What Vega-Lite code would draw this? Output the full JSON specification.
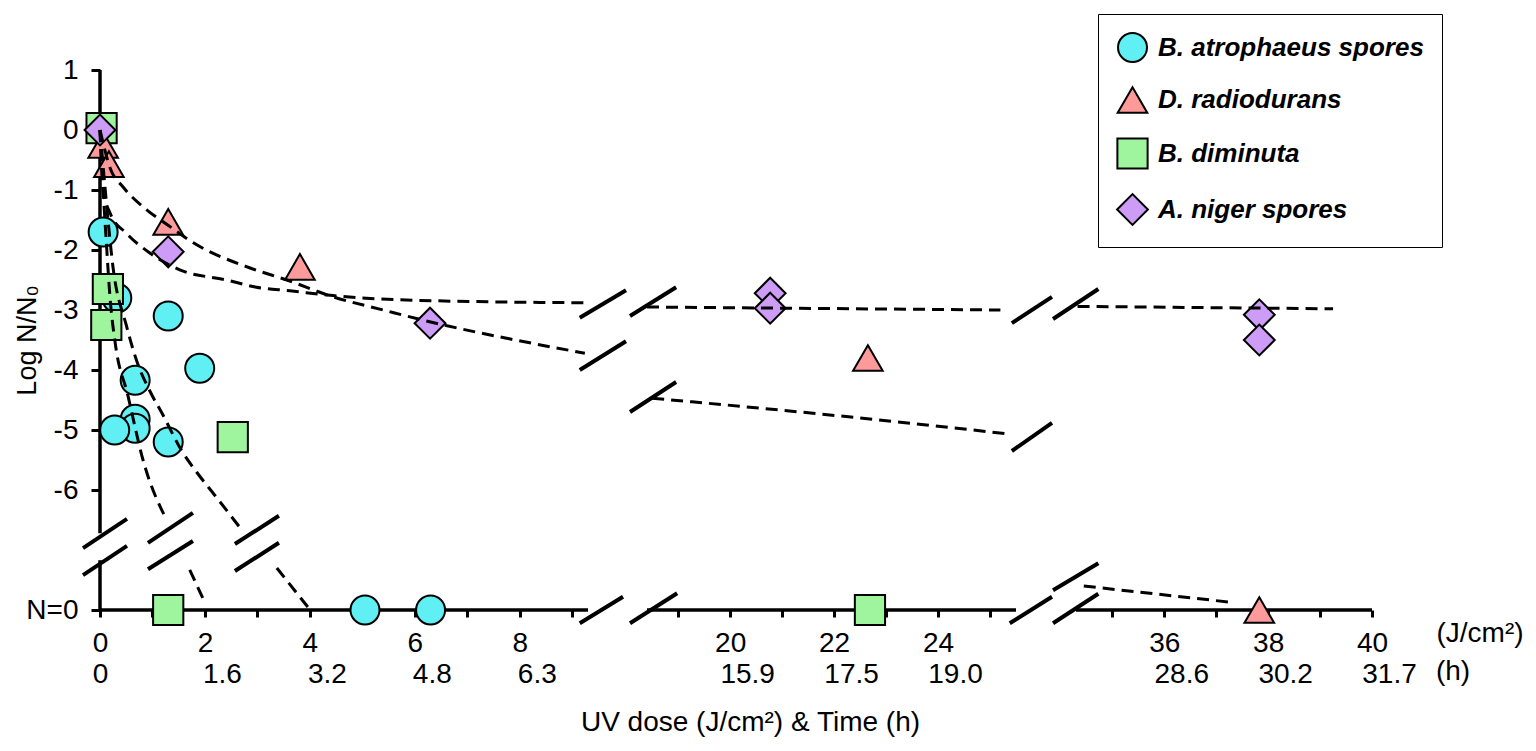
{
  "$schema": "https://vega.github.io/schema/vega-lite/v6.json",
  "autosize": {"type": "none"},
  "padding": {"left": 100, "top": 25, "right": 164, "bottom": 141},
  "width": 1272,
  "height": 585,
  "config": {
    "view": {"stroke": null},
    "font": "Liberation Sans"
  },
  "datasets": {
    "points": [
      {"species": "B. atrophaeus spores", "dose": 0.06, "logr": -1.7},
      {"species": "B. atrophaeus spores", "dose": 0.32, "logr": -2.8},
      {"species": "B. atrophaeus spores", "dose": 1.3, "logr": -3.1},
      {"species": "B. atrophaeus spores", "dose": 1.9, "logr": -3.97},
      {"species": "B. atrophaeus spores", "dose": 0.67, "logr": -4.17},
      {"species": "B. atrophaeus spores", "dose": 0.67, "logr": -4.82},
      {"species": "B. atrophaeus spores", "dose": 0.67, "logr": -4.97},
      {"species": "B. atrophaeus spores", "dose": 0.28, "logr": -5.0},
      {"species": "B. atrophaeus spores", "dose": 1.3, "logr": -5.2},
      {"species": "B. atrophaeus spores", "dose": 5.05, "logr": -8},
      {"species": "B. atrophaeus spores", "dose": 6.3, "logr": -8},
      {"species": "B. diminuta", "dose": 0.03, "logr": 0.03},
      {"species": "B. diminuta", "dose": 0.15, "logr": -2.65},
      {"species": "B. diminuta", "dose": 0.12, "logr": -3.25},
      {"species": "B. diminuta", "dose": 2.53, "logr": -5.12},
      {"species": "B. diminuta", "dose": 1.3, "logr": -8},
      {"species": "B. diminuta", "dose": 22.69, "logr": -8},
      {"species": "D. radiodurans", "dose": 0.06, "logr": -0.25},
      {"species": "D. radiodurans", "dose": 0.17, "logr": -0.57},
      {"species": "D. radiodurans", "dose": 1.3, "logr": -1.53},
      {"species": "D. radiodurans", "dose": 3.81, "logr": -2.28},
      {"species": "D. radiodurans", "dose": 22.65, "logr": -3.8},
      {"species": "D. radiodurans", "dose": 37.83, "logr": -8},
      {"species": "A. niger spores", "dose": 0, "logr": 0},
      {"species": "A. niger spores", "dose": 1.3, "logr": -2.03},
      {"species": "A. niger spores", "dose": 6.29, "logr": -3.22},
      {"species": "A. niger spores", "dose": 20.77, "logr": -2.72},
      {"species": "A. niger spores", "dose": 20.77, "logr": -2.97},
      {"species": "A. niger spores", "dose": 37.83, "logr": -3.08},
      {"species": "A. niger spores", "dose": 37.83, "logr": -3.5}
    ],
    "curves": [
      {"grp": "BD1", "dose": 0, "logr": 0},
      {"grp": "BD1", "dose": 0.06, "logr": -1.0},
      {"grp": "BD1", "dose": 0.13, "logr": -2.0},
      {"grp": "BD1", "dose": 0.19, "logr": -2.78},
      {"grp": "BD1", "dose": 0.29, "logr": -3.55},
      {"grp": "BD1", "dose": 0.53, "logr": -4.42},
      {"grp": "BD1", "dose": 0.82, "logr": -5.5},
      {"grp": "BD1", "dose": 1.27, "logr": -6.5},
      {"grp": "BD2", "dose": 1.71, "logr": -7.33},
      {"grp": "BD2", "dose": 2.0, "logr": -7.88},
      {"grp": "BA1", "dose": 0, "logr": 0},
      {"grp": "BA1", "dose": 0.1, "logr": -1.0},
      {"grp": "BA1", "dose": 0.25, "logr": -2.3},
      {"grp": "BA1", "dose": 0.5, "logr": -3.25},
      {"grp": "BA1", "dose": 0.72, "logr": -3.9},
      {"grp": "BA1", "dose": 0.95, "logr": -4.35},
      {"grp": "BA1", "dose": 1.2, "logr": -4.75},
      {"grp": "BA1", "dose": 1.56, "logr": -5.35},
      {"grp": "BA1", "dose": 1.84, "logr": -5.7},
      {"grp": "BA1", "dose": 2.2, "logr": -6.1},
      {"grp": "BA1", "dose": 2.67, "logr": -6.63},
      {"grp": "BA2", "dose": 3.37, "logr": -7.3},
      {"grp": "BA2", "dose": 3.96, "logr": -7.95},
      {"grp": "DR1", "dose": 0, "logr": 0},
      {"grp": "DR1", "dose": 0.2, "logr": -0.65},
      {"grp": "DR1", "dose": 0.44, "logr": -0.95},
      {"grp": "DR1", "dose": 0.89, "logr": -1.33},
      {"grp": "DR1", "dose": 1.27, "logr": -1.57},
      {"grp": "DR1", "dose": 1.78, "logr": -1.88},
      {"grp": "DR1", "dose": 2.86, "logr": -2.3},
      {"grp": "DR1", "dose": 3.56, "logr": -2.5},
      {"grp": "DR1", "dose": 4.44, "logr": -2.78},
      {"grp": "DR1", "dose": 5.4, "logr": -3.0},
      {"grp": "DR1", "dose": 6.3, "logr": -3.2},
      {"grp": "DR1", "dose": 7.8, "logr": -3.48},
      {"grp": "DR1", "dose": 9.24, "logr": -3.72},
      {"grp": "DR2", "dose": 18.5, "logr": -4.47},
      {"grp": "DR2", "dose": 21.7, "logr": -4.73},
      {"grp": "DR2", "dose": 25.3, "logr": -5.06},
      {"grp": "DR3", "dose": 34.45, "logr": -7.6},
      {"grp": "DR3", "dose": 37.27, "logr": -7.87},
      {"grp": "AN1", "dose": 0, "logr": 0},
      {"grp": "AN1", "dose": 0.06, "logr": -1.0},
      {"grp": "AN1", "dose": 0.2, "logr": -1.4},
      {"grp": "AN1", "dose": 0.5, "logr": -1.72},
      {"grp": "AN1", "dose": 0.95, "logr": -2.05},
      {"grp": "AN1", "dose": 1.52, "logr": -2.33},
      {"grp": "AN1", "dose": 2.41, "logr": -2.5},
      {"grp": "AN1", "dose": 2.98, "logr": -2.62},
      {"grp": "AN1", "dose": 3.62, "logr": -2.68},
      {"grp": "AN1", "dose": 4.44, "logr": -2.76},
      {"grp": "AN1", "dose": 5.7, "logr": -2.83},
      {"grp": "AN1", "dose": 9.3, "logr": -2.88},
      {"grp": "AN2", "dose": 18.4, "logr": -2.95},
      {"grp": "AN2", "dose": 25.2, "logr": -3.0},
      {"grp": "AN3", "dose": 34.33, "logr": -2.94},
      {"grp": "AN3", "dose": 39.25, "logr": -2.98}
    ],
    "axisLines": [
      {"x": 0, "x2": 0, "y": 1, "y2": -6.72},
      {"x": 0, "x2": 0, "y": -7.17, "y2": -8},
      {"x": 0, "x2": 9.3, "y": -8, "y2": -8},
      {"x": 18.4, "x2": 25.5, "y": -8, "y2": -8},
      {"x": 34.3, "x2": 40, "y": -8, "y2": -8}
    ],
    "breaks": [
      {"x": -0.324, "x2": 0.514, "y": -6.97, "y2": -6.48},
      {"x": -0.324, "x2": 0.514, "y": -7.42, "y2": -6.93},
      {"x": 0.914, "x2": 1.771, "y": -6.88, "y2": -6.38},
      {"x": 0.914, "x2": 1.771, "y": -7.32, "y2": -6.85},
      {"x": 2.571, "x2": 3.41, "y": -6.9, "y2": -6.43},
      {"x": 2.571, "x2": 3.41, "y": -7.35, "y2": -6.88},
      {"x": 9.143, "x2": 15.16, "y": -3.13, "y2": -2.67},
      {"x": 15.78, "x2": 18.96, "y": -3.1, "y2": -2.62},
      {"x": 9.143, "x2": 15.16, "y": -4.0, "y2": -3.52},
      {"x": 15.78, "x2": 18.96, "y": -4.7, "y2": -4.2},
      {"x": 9.143, "x2": 14.7, "y": -8.22, "y2": -7.78},
      {"x": 15.78, "x2": 18.98, "y": -8.22, "y2": -7.72},
      {"x": 25.42, "x2": 30.78, "y": -3.22, "y2": -2.78},
      {"x": 30.93, "x2": 34.73, "y": -3.15, "y2": -2.65},
      {"x": 25.42, "x2": 30.78, "y": -5.35, "y2": -4.88},
      {"x": 25.38, "x2": 30.78, "y": -8.22, "y2": -7.78},
      {"x": 30.93, "x2": 34.73, "y": -8.22, "y2": -7.73},
      {"x": 30.93, "x2": 34.73, "y": -7.67, "y2": -7.22}
    ],
    "units": [
      {"t": "(J/cm²)", "x": 42.08, "y": -8.4},
      {"t": "(h)", "x": 41.56, "y": -9.03}
    ]
  },
  "resolve": {"axis": {"x": "independent"}},
  "layer": [
    {
      "data": {"name": "axisLines"},
      "mark": {"type": "rule", "color": "black", "strokeWidth": 3.5},
      "encoding": {
        "x": {"field": "x", "type": "quantitative", "axis": null,
          "scale": {"type": "linear", "domain": [0, 9.3, 18.4, 25.5, 34.3, 40], "range": [0, 488, 547, 916, 976, 1272], "nice": false, "zero": false}},
        "x2": {"field": "x2"},
        "y": {"field": "y", "type": "quantitative",
          "scale": {"domain": [-8, 1.75], "nice": false, "zero": false},
          "axis": {
            "orient": "left",
            "values": [1, 0, -1, -2, -3, -4, -5, -6, -8],
            "labelExpr": "datum.value == -8 ? 'N=0' : '' + datum.value",
            "domain": false, "grid": false,
            "ticks": true, "tickSize": 9, "tickWidth": 3, "tickColor": "black",
            "labelFontSize": 28, "labelColor": "black", "labelPadding": 13,
            "labelOverlap": false, "labelBound": false,
            "title": "Log N/N₀",
            "titleFontSize": 27, "titleFontWeight": "normal", "titleColor": "black",
            "titleX": -73, "titleY": 315, "titleAngle": -90, "titleAlign": "center", "titleBaseline": "middle"
          }},
        "y2": {"field": "y2"}
      }
    },
    {
      "data": {"name": "points"},
      "mark": {"type": "point", "filled": true, "stroke": "black", "strokeWidth": 2, "opacity": 1},
      "encoding": {
        "x": {"field": "dose", "type": "quantitative",
          "scale": {"type": "linear", "domain": [0, 9.3, 18.4, 25.5, 34.3, 40], "range": [0, 488, 547, 916, 976, 1272], "nice": false, "zero": false},
          "axis": {
            "orient": "bottom",
            "values": [0, 1, 2, 3, 4, 5, 6, 7, 8, 9, 19, 20, 21, 22, 23, 24, 25, 35, 36, 37, 38, 39, 40],
            "labelExpr": "datum.value % 2 == 0 ? datum.label : ''",
            "domain": false, "grid": false,
            "ticks": true, "tickSize": 7, "tickWidth": 3, "tickColor": "black",
            "labelFontSize": 28, "labelColor": "black", "labelPadding": 12,
            "labelOverlap": false, "labelFlush": false, "labelBound": false,
            "title": "UV dose (J/cm²) & Time (h)",
            "titleFontSize": 28, "titleFontWeight": "normal", "titleColor": "black",
            "titleX": 650, "titleY": 112, "titleAlign": "center", "titleBaseline": "middle"
          }},
        "y": {"field": "logr", "type": "quantitative",
          "scale": {"domain": [-8, 1.75], "nice": false, "zero": false}},
        "color": {"field": "species", "type": "nominal",
          "scale": {"domain": ["B. atrophaeus spores", "D. radiodurans", "B. diminuta", "A. niger spores"],
            "range": ["#60eff2", "#ff9a9a", "#9ef59e", "#cc9cf7"]},
          "legend": {"title": null, "orient": "none", "legendX": 998, "legendY": -11,
            "strokeColor": "black", "padding": 18, "rowPadding": 17,
            "labelFontSize": 26, "labelFontStyle": "italic", "labelFontWeight": "bold", "labelColor": "black",
            "labelLimit": 500, "labelOffset": 9, "symbolSize": 850, "symbolStrokeColor": "black", "symbolStrokeWidth": 2}},
        "shape": {"field": "species", "type": "nominal",
          "scale": {"domain": ["B. atrophaeus spores", "D. radiodurans", "B. diminuta", "A. niger spores"],
            "range": ["circle", "triangle-up", "square", "diamond"]},
          "legend": {"title": null, "orient": "none", "legendX": 998, "legendY": -11,
            "strokeColor": "black", "padding": 18, "rowPadding": 17,
            "labelFontSize": 26, "labelFontStyle": "italic", "labelFontWeight": "bold", "labelColor": "black",
            "labelLimit": 500, "labelOffset": 9, "symbolSize": 850, "symbolStrokeColor": "black", "symbolStrokeWidth": 2}},
        "size": {"field": "species", "type": "nominal", "legend": null,
          "scale": {"domain": ["B. atrophaeus spores", "D. radiodurans", "B. diminuta", "A. niger spores"],
            "range": [841, 950, 729, 1050]}}
      }
    },
    {
      "data": {"name": "curves"},
      "mark": {"type": "line", "color": "black", "strokeWidth": 3, "strokeDash": [12, 7], "interpolate": "monotone"},
      "encoding": {
        "x": {"field": "dose", "type": "quantitative",
          "scale": {"type": "linear", "domain": [0, 9.3, 18.4, 25.5, 34.3, 40], "range": [0, 488, 547, 916, 976, 1272], "nice": false, "zero": false},
          "axis": {
            "orient": "bottom",
            "values": [0, 2, 4, 6, 8, 20, 22, 24, 36, 38, 40],
            "labelExpr": "['0','1.6','3.2','4.8','6.3','','','','','','15.9','17.5','19.0','','','','','','28.6','30.2','31.7'][datum.value / 2]",
            "domain": false, "grid": false, "ticks": false,
            "labelFontSize": 28, "labelColor": "black", "labelPadding": 50,
            "labelOffset": {"condition": {"test": "datum.value == 0", "value": 0}, "value": 17},
            "labelOverlap": false, "labelFlush": false, "labelBound": false,
            "title": null
          }},
        "y": {"field": "logr", "type": "quantitative",
          "scale": {"domain": [-8, 1.75], "nice": false, "zero": false}},
        "detail": {"field": "grp", "type": "nominal"}
      }
    },
    {
      "data": {"name": "breaks"},
      "mark": {"type": "rule", "color": "black", "strokeWidth": 4},
      "encoding": {
        "x": {"field": "x", "type": "quantitative", "axis": null,
          "scale": {"type": "linear", "domain": [0, 9.3, 18.4, 25.5, 34.3, 40], "range": [0, 488, 547, 916, 976, 1272], "nice": false, "zero": false}},
        "x2": {"field": "x2"},
        "y": {"field": "y", "type": "quantitative",
          "scale": {"domain": [-8, 1.75], "nice": false, "zero": false}},
        "y2": {"field": "y2"}
      }
    },
    {
      "data": {"name": "units"},
      "mark": {"type": "text", "fontSize": 28, "color": "black", "align": "center", "baseline": "middle"},
      "encoding": {
        "x": {"field": "x", "type": "quantitative", "axis": null,
          "scale": {"type": "linear", "domain": [0, 9.3, 18.4, 25.5, 34.3, 40], "range": [0, 488, 547, 916, 976, 1272], "nice": false, "zero": false}},
        "y": {"field": "y", "type": "quantitative",
          "scale": {"domain": [-8, 1.75], "nice": false, "zero": false}},
        "text": {"field": "t"}
      }
    }
  ]
}
